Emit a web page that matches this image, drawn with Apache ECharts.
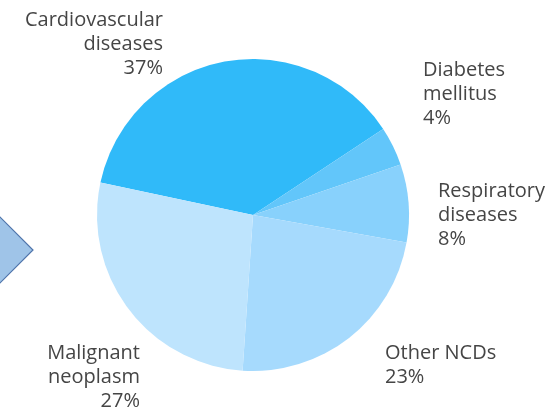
<!DOCTYPE html>
<html>
<head>
<meta charset="utf-8">
<style>
    html, body { margin: 0; padding: 0; background: #fff; }
    #ncd_pie { width: 549px; height: 412px; }
</style>
<script src="https://cdn.jsdelivr.net/npm/echarts@6/dist/echarts.min.js"></script>
</head>
<body>
<div id="ncd_pie"></div>
<script>
// causes of NCD deaths, share in %
const causes = ['Cardiovascular\ndiseases', 'Diabetes\nmellitus', 'Respiratory\ndiseases', 'Other NCDs', 'Malignant\nneoplasm'];
const shares = [37, 4, 8, 23, 27];

const colors = ['#30baf9', '#62c6fa', '#88d1fc', '#a6dafd', '#bee4fd'];
// where each label sits [x, y, align]
const labelSpots = [
    [163, 44, 'right'],
    [423, 94, 'left'],
    [438, 215, 'left'],
    [385, 365, 'left'],
    [140, 377, 'right']
];

const chart = echarts.init(document.getElementById('ncd_pie'));

const option = {
    backgroundColor: '#fff',
    animation: false,
    graphic: [{
        type: 'polygon',
        shape: { points: [[-2, 215], [33, 250], [-2, 285]] },
        style: { fill: '#9fc4e8', stroke: '#4f74aa', lineWidth: 1.2 }
    }],
    series: [{
        type: 'pie',
        center: [253, 215],
        radius: 156,
        startAngle: 168,
        clockwise: true,
        color: colors,
        label: {
            show: true,
            position: 'outside',
            formatter: '{b}\n{c}%',
            color: '#454545',
            fontFamily: 'Open Sans',
            fontSize: 20,
            lineHeight: 24,
            overflow: 'none'
        },
        labelLine: { show: false },
        labelLayout: function (p) {
            const s = labelSpots[p.dataIndex];
            return { x: s[0], y: s[1], align: s[2], verticalAlign: 'middle' };
        },
        itemStyle: { borderWidth: 0 },
        emphasis: { disabled: true },
        data: causes.map((name, i) => ({ name: name, value: shares[i] }))
    }]
};
chart.setOption(option);
window.addEventListener('resize', function () {
    chart.resize();
});
</script>
</body>
</html>
